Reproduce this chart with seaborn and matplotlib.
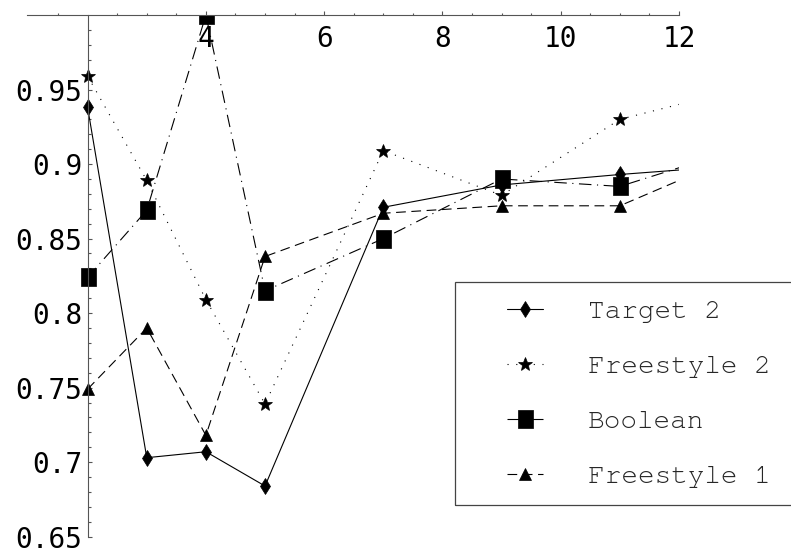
import numpy as np
import pandas as pd
import matplotlib
matplotlib.use('Agg')
import matplotlib.pyplot as plt
import seaborn as sns
from matplotlib.patches import Rectangle
from matplotlib.path import Path
from matplotlib.ticker import FixedLocator, FuncFormatter
from matplotlib.font_manager import FontProperties

# values (x=13 lies past the axis end, only its line stub shows)
x_vals = [2, 3, 4, 5, 7, 9, 11, 13]
target2 = [0.938, 0.703, 0.707, 0.684, 0.871, 0.886, 0.893, 0.899]
freestyle2 = [0.959, 0.889, 0.809, 0.739, 0.909, 0.879, 0.930, 0.950]
boolean = [0.824, 0.869, 1.0, 0.815, 0.850, 0.890, 0.885, 0.910]
freestyle1 = [0.749, 0.790, 0.718, 0.838, 0.867, 0.872, 0.872, 0.906]

series_names = ['Target 2', 'Freestyle 2', 'Boolean', 'Freestyle 1']
x_ticks = [4, 6, 8, 10, 12]
y_ticks = [0.65, 0.7, 0.75, 0.8, 0.85, 0.9, 0.95]

sns.set_style('white')
plt.rcParams['font.family'] = ['DejaVu Sans Mono', 'DejaVu Sans']
plt.rcParams['lines.scale_dashes'] = False

df = pd.DataFrame({'x': x_vals, 'Target 2': target2, 'Freestyle 2': freestyle2,
                   'Boolean': boolean, 'Freestyle 1': freestyle1})

# tall rectangle marker like the reference squares
rect = Path([(-0.8, -1), (0.8, -1), (0.8, 1), (-0.8, 1), (-0.8, -1)],
            [Path.MOVETO, Path.LINETO, Path.LINETO, Path.LINETO, Path.CLOSEPOLY])

styles = {
    'Target 2': dict(linestyle='-', marker='d', markersize=7.8),
    'Freestyle 2': dict(linestyle=(0, (0.8, 5.5)), marker='*', markersize=10.5),
    'Boolean': dict(linestyle=(0, (9, 4, 0.8, 4)), marker=rect, markersize=13.5),
    'Freestyle 1': dict(linestyle=(0, (7, 4)), marker='^', markersize=8.5),
}

W, H = 791, 555
fig = plt.figure(figsize=(7.91, 5.55), dpi=100)
ax = fig.add_axes([27.3 / W, 1 - 536.7 / H, (679 - 27.3) / W, (536.7 - 15) / H])

for name in series_names:
    sns.lineplot(data=df, x='x', y=name, ax=ax, color='black', linewidth=0.8,
                 markerfacecolor='black', markeredgecolor='black', markeredgewidth=0.5,
                 errorbar=None, label=name, **styles[name])

ax.set_xlim(0.98, 12)
ax.set_ylim(0.65, 1.0)
ax.set_xlabel('')
ax.set_ylabel('')

ax.spines['right'].set_visible(False)
ax.spines['top'].set_visible(False)
ax.spines['bottom'].set_position(('data', 1.0))
ax.spines['left'].set_position(('data', 2))
for s in ['bottom', 'left']:
    ax.spines[s].set_color('#555555')
    ax.spines[s].set_linewidth(0.8)

ax.xaxis.set_major_locator(FixedLocator(x_ticks))
ax.xaxis.set_minor_locator(FixedLocator([v for v in np.arange(1.5, 12, 0.5) if v % 2 != 0]))
ax.yaxis.set_major_locator(FixedLocator(y_ticks))
ax.yaxis.set_minor_locator(FixedLocator(np.arange(0.66, 1.0, 0.01)))
ax.yaxis.set_major_formatter(FuncFormatter(lambda v, p: '%g' % round(v, 2)))
ax.xaxis.set_major_formatter(FuncFormatter(lambda v, p: '%g' % v))

ax.tick_params(axis='both', which='both', direction='in', color='#555555', width=0.8,
               labelsize=20, labelcolor='black', bottom=True, left=True)
ax.tick_params(axis='both', which='major', length=3.2)
ax.tick_params(axis='both', which='minor', length=1.8)
ax.tick_params(axis='x', which='major', pad=7)
ax.tick_params(axis='y', which='major', pad=4)

leg_font = FontProperties(family=['Courier New', 'Nimbus Mono PS', 'FreeMono', 'Liberation Mono'],
                          size=20)
leg = ax.legend(loc='center left', bbox_to_anchor=(507 / W, 1 - 393.5 / H),
                bbox_transform=fig.transFigure, frameon=False, numpoints=1,
                prop=leg_font, handlelength=1.3, handletextpad=1.6, labelspacing=1.1,
                borderpad=0, borderaxespad=0)

fig.add_artist(Rectangle((455 / W, 1 - 505 / H), (800 - 455) / W, (505 - 282) / H,
                         transform=fig.transFigure, fill=False,
                         edgecolor='#444444', linewidth=0.9))

fig.savefig('out.png', dpi=100)
